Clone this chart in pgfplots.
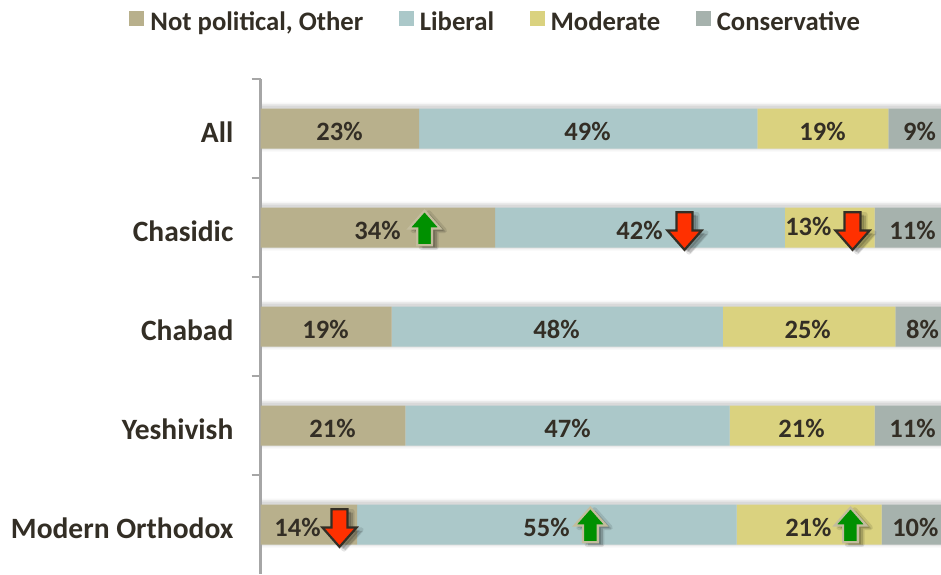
\documentclass[border=0pt]{standalone}
\usepackage{fontspec}
\setmainfont{Carlito}
\usepackage{pgfplots}
\pgfplotsset{compat=1.18}
\definecolor{txt}{HTML}{332E25}
\definecolor{cOther}{HTML}{B8B08C}
\definecolor{cLib}{HTML}{ABC8C9}
\definecolor{cMod}{HTML}{DAD27F}
\definecolor{cCon}{HTML}{A6B2AD}
\definecolor{axgray}{HTML}{A6A6A6}
\definecolor{arrGreen}{HTML}{009000}
\definecolor{arrRed}{HTML}{FF3000}
\newcommand\arrowpath[3]{%
  \pgfpathmoveto{\pgfpoint{#2pt}{#1*17pt+#3pt}}%
  \pgfpathlineto{\pgfpoint{15pt+#2pt}{#1*0pt+#3pt}}%
  \pgfpathlineto{\pgfpoint{7pt+#2pt}{#1*0pt+#3pt}}%
  \pgfpathlineto{\pgfpoint{7pt+#2pt}{#1*-16pt+#3pt}}%
  \pgfpathlineto{\pgfpoint{-7pt+#2pt}{#1*-16pt+#3pt}}%
  \pgfpathlineto{\pgfpoint{-7pt+#2pt}{#1*0pt+#3pt}}%
  \pgfpathlineto{\pgfpoint{-15pt+#2pt}{#1*0pt+#3pt}}%
  \pgfpathclose}
\newcommand\arrowmark[3]{%
  \pgfsetroundjoin
  \pgfsetlinewidth{0pt}%
  \pgfsetfillcolor{black}%
  \pgfsetfillopacity{0.16}%
  \arrowpath{#1}{3}{-2}\pgfusepath{fill}%
  \arrowpath{#1}{5}{-3}\pgfusepath{fill}%
  \pgfsetstrokeopacity{0.10}\pgfsetstrokecolor{black}\pgfsetlinewidth{5pt}%
  \arrowpath{#1}{4}{-2}\pgfusepath{stroke}%
  \pgfsetfillopacity{1}\pgfsetstrokeopacity{1}%
  \pgfsetlinewidth{2.2pt}\pgfsetmiterjoin
  \pgfsetstrokecolor{#2}\pgfsetfillcolor{#3}%
  \arrowpath{#1}{0}{0}\pgfusepath{fill,stroke}}
\pgfdeclareplotmark{arrowUp}{\pgftransformscale{1.05}\arrowmark{1}{cOther!85!white}{arrGreen}}
\pgfdeclareplotmark{arrowDown}{\pgftransformscale{1.14}\arrowmark{-1}{txt}{arrRed}}
\pgfplotsset{
  base/.style={
    at={(260.5pt,0pt)}, anchor=south west,
    scale only axis, width=680.5pt, height=495pt,
    xmin=0, xmax=98.62, ymin=-0.5, ymax=4.5, y dir=reverse,
  },
}
\newcommand\lblfont{\bfseries\fontsize{29.5}{34}\selectfont}
\newcommand\valfont{\bfseries\fontsize{26.5}{32}\selectfont}
\newcommand\legfont{\bfseries\fontsize{26.7}{32}\selectfont}
\begin{document}
\begin{tikzpicture}[x=1pt,y=1pt]
\path[use as bounding box] (0,0) rectangle (941,574);
% soft bar shadows
\begin{axis}[base, hide axis, xbar, bar shift=1.5pt]
\addplot[draw=none, fill=black, fill opacity=0.03, bar width=49pt] coordinates {(100,0) (100,1) (100,2) (100,3) (100,4)};
\addplot[draw=none, fill=black, fill opacity=0.05, bar width=46pt] coordinates {(100,0) (100,1) (100,2) (100,3) (100,4)};
\addplot[draw=none, fill=black, fill opacity=0.07, bar width=43pt] coordinates {(100,0) (100,1) (100,2) (100,3) (100,4)};
\end{axis}
% stacked bars
\begin{axis}[base,
  xbar stacked, bar width=40pt,
  axis x line=none, axis y line=left,
  y axis line style={-, draw=axgray, line width=3pt},
  ytick={0,1,2,3,4},
  yticklabels={All,Chasidic,Chabad,Yeshivish,Modern Orthodox},
  major tick length=0pt,
  minor ytick={-0.5,0.5,1.5,2.5,3.5},
  minor tick length=9pt,
  tick align=outside,
  minor tick style={draw=axgray, line width=2pt},
  yticklabel style={font=\lblfont, text=txt, xshift=-27pt, yshift=-3.5pt, inner sep=0pt},
  legend columns=4,
  legend style={
    at={(-0.1926,1.137)}, anchor=north west, draw=none, fill=none,
    font=\legfont, text=txt, inner sep=0pt, outer sep=0pt,
    /tikz/every even column/.append style={column sep=35.5pt},
    /tikz/every odd column/.append style={column sep=6pt},
    nodes={inner sep=0pt, anchor=base west},
  },
  legend cell align=left,
  legend image code/.code={\fill[#1] (0pt,4pt) rectangle (15pt,19pt);},
]
\addplot[draw=none, fill=cOther] coordinates {(23,0) (34,1) (19,2) (21,3) (14,4)};
\addplot[draw=none, fill=cLib] coordinates {(49,0) (42,1) (48,2) (47,3) (55,4)};
\addplot[draw=none, fill=cMod] coordinates {(19,0) (13,1) (25,2) (21,3) (21,4)};
\addplot[draw=none, fill=cCon] coordinates {(9,0) (11,1) (8,2) (11,3) (10,4)};
\legend{{Not political, Other},Liberal,Moderate,Conservative}
\end{axis}
% value labels and arrows
\begin{axis}[base, hide axis, clip=false, /pgf/number format/assume math mode=true]
\addplot[draw=none, mark=none, point meta=explicit,
  nodes near coords={\pgfmathprintnumber{\pgfplotspointmeta}\%},
  every node near coord/.append style={anchor=center, font=\valfont, text=txt, inner sep=0pt},
] table[meta=v] {
x y v
11.45 0.03 23
47.4 0.03 49
81.45 0.03 19
95.5 0.03 9
16.96 1.03 34
54.93 1.03 42
79.4 0.99 13
94.5 1.03 11
9.42 2.03 19
42.9 2.03 48
79.3 2.03 25
95.94 2.03 8
10.43 3.03 21
44.5 3.03 47
78.4 3.03 21
94.5 3.03 11
5.36 4.03 14
41.45 4.03 55
79.4 4.03 21
94.9 4.03 10
};
\addplot[only marks, mark=arrowUp] coordinates {(23.77,1.01) (47.8,4.01) (85.5,4.01)};
\addplot[only marks, mark=arrowDown] coordinates {(61.45,1.03) (85.8,1.03) (11.45,4.03)};
\end{axis}
\end{tikzpicture}
\end{document}
